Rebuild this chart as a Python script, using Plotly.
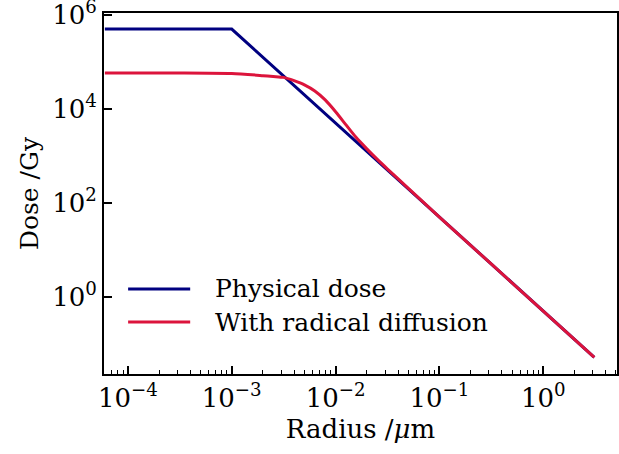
import plotly.graph_objects as go

# Radial dose profile of an ion track (radius in micrometres, dose in Gy)
physical_r = [6e-5, 1e-3, 3.1]
physical_dose = [5e5, 5e5, 0.052]

diffusion_r = [6e-5, 1e-4, 3e-4, 1e-3, 2e-3, 2.51e-3, 3.16e-3, 3.98e-3,
               5.01e-3, 6.31e-3, 7.94e-3, 1.0e-2, 1.26e-2, 1.58e-2, 2.0e-2,
               2.51e-2, 3.16e-2, 3.98e-2, 6.31e-2, 0.1, 1.0, 3.1]
diffusion_dose = [5.8e4, 5.8e4, 5.8e4, 5.65e4, 5.1e4, 4.9e4, 4.68e4, 3.98e4,
                  3.24e4, 2.4e4, 1.55e4, 8.7e3, 4.57e3, 2.45e3, 1.41e3,
                  851, 525, 327, 128, 50, 0.5, 0.052]

x_tickvals = [1e-4, 1e-3, 1e-2, 1e-1, 1e0]
x_ticktext = ["10<sup>−4</sup>", "10<sup>−3</sup>", "10<sup>−2</sup>",
              "10<sup>−1</sup>", "10<sup>0</sup>"]
x_minor = [m * 10.0 ** e for e in range(-5, 1) for m in range(2, 10)]
y_tickvals = [1e0, 1e2, 1e4, 1e6]
y_ticktext = ["10<sup>0</sup>", "10<sup>2</sup>", "10<sup>4</sup>", "10<sup>6</sup>"]

series_names = ["Physical dose", "With radical diffusion"]
series_colors = ["#000080", "#DC143C"]

FONT = "DejaVu Serif"

fig = go.Figure()
fig.add_trace(go.Scatter(x=physical_r, y=physical_dose, mode="lines",
                         name=series_names[0], showlegend=False,
                         line=dict(color=series_colors[0], width=3)))
fig.add_trace(go.Scatter(x=diffusion_r, y=diffusion_dose, mode="lines",
                         name=series_names[1], showlegend=False,
                         line=dict(color=series_colors[1], width=3,
                                   shape="spline", smoothing=0.7)))

axis_common = dict(type="log", showline=True, linecolor="black", linewidth=2,
                   mirror=True, ticks="inside", tickcolor="black",
                   tickwidth=1.5, ticklen=8, showgrid=False, zeroline=False,
                   automargin=False, ticklabeloverflow="allow",
                   tickfont=dict(family=FONT, size=26, color="black"))

fig.update_xaxes(**axis_common, range=[-4.23, 0.71],
                 tickvals=x_tickvals, ticktext=x_ticktext,
                 minor=dict(tickvals=x_minor, ticks="inside", ticklen=4,
                            tickwidth=1, tickcolor="black", showgrid=False),
                 title=dict(text="Radius /<i>μ</i>m",
                            font=dict(family=FONT, size=26, color="black"),
                            standoff=8))
fig.update_yaxes(**axis_common, range=[-1.64, 6.04],
                 tickvals=y_tickvals, ticktext=y_ticktext,
                 title=dict(text="Dose /Gy",
                            font=dict(family=FONT, size=25, color="black"),
                            standoff=6))

# Legend drawn inside the axes: a line sample and a label for each series
legend_rows = [0.2355, 0.144]
for name, color, yrow in zip(series_names, series_colors, legend_rows):
    fig.add_shape(type="line", xref="paper", yref="paper",
                  x0=0.047, x1=0.168, y0=yrow, y1=yrow,
                  line=dict(color=color, width=3))
    fig.add_annotation(text=name, xref="paper", yref="paper",
                       x=0.212, y=yrow, xanchor="left", yanchor="middle",
                       showarrow=False,
                       font=dict(family=FONT, size=25, color="black"))

fig.update_layout(
    width=619, height=454,
    margin=dict(l=104, r=2, t=13, b=80),
    plot_bgcolor="white", paper_bgcolor="white",
    showlegend=False,
)

fig.write_html("out.html")
